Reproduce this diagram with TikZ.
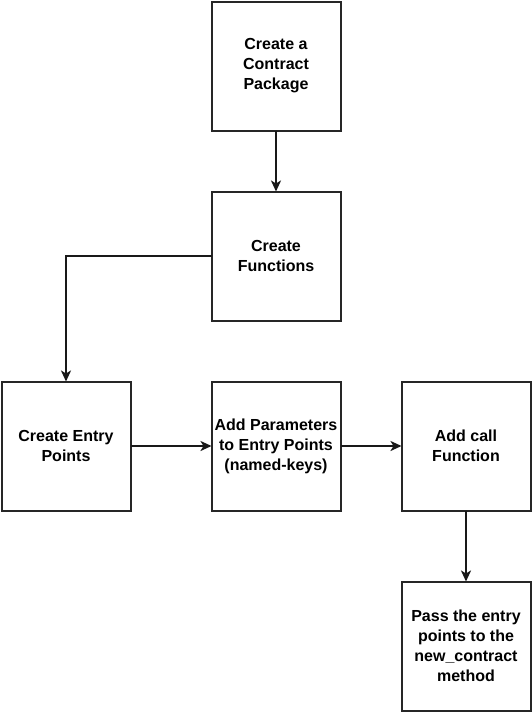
\documentclass[tikz,border=0pt]{standalone}
\usepackage{fontspec}
\setmainfont{Liberation Sans}
\usetikzlibrary{positioning,arrows.meta}
\tikzset{
    box/.style={draw=black!85, line width=2pt, minimum width=129pt, minimum height=129pt, outer sep=0pt, align=center, font=\fontsize{16}{20}\selectfont\bfseries, inner sep=1pt},
    arr/.style={draw=black!90, line width=2pt, -{Stealth[length=11pt,width=10pt,inset=3pt]}}
}
\begin{document}
\begin{tikzpicture}
        \useasboundingbox (0,0) rectangle (532pt,-712pt);

        \node[box] (package) at (276pt,-66pt) {Create a\\Contract\\Package};
        \node[box, below=61pt of package] (functions) {Create\\Functions};
        \node[box, below=61pt of functions] (params) {Add Parameters\\to Entry Points\\(named-keys)};
        \node[box, left=81pt of params] (entry) {Create Entry\\Points};
        \node[box, right=61pt of params] (call) {Add call\\Function};
        \node[box, below=71pt of call] (pass) {Pass the entry\\points to the\\new\_contract\\method};

        \draw[arr] (package) -- (functions);
        \draw[arr] (functions.west) -| (entry.north);
        \draw[arr] (entry) -- (params);
        \draw[arr] (params) -- (call);
        \draw[arr] (call) -- (pass);
    \end{tikzpicture}
\end{document}
